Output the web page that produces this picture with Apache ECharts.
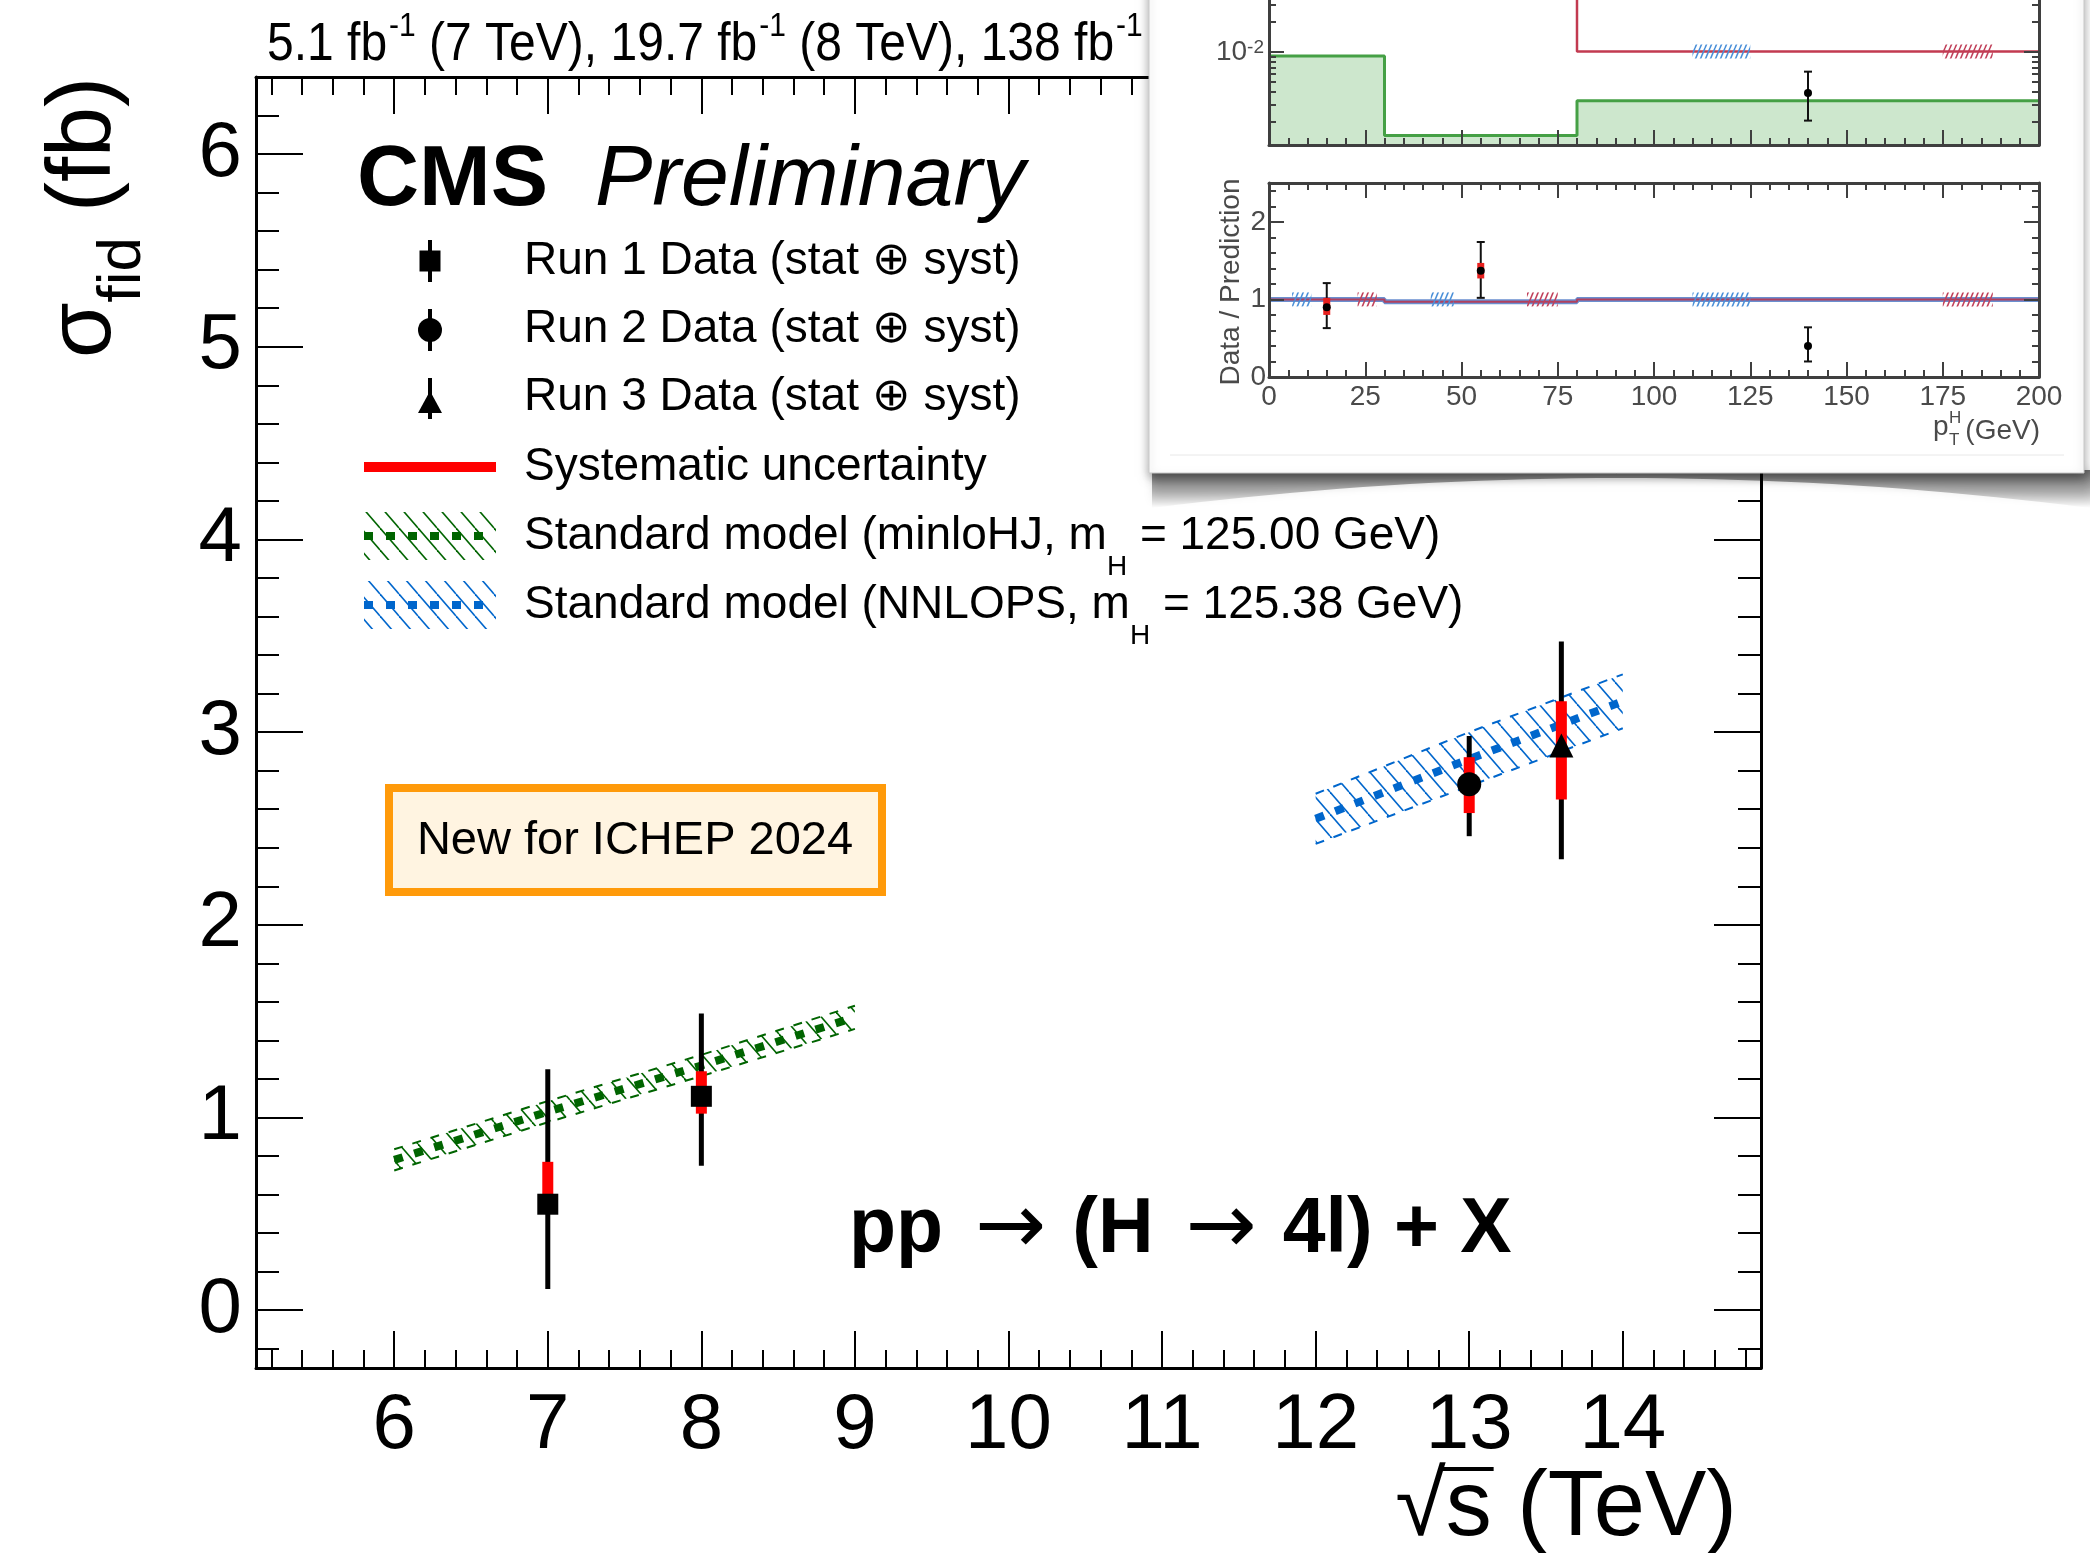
<!DOCTYPE html>
<html>
<head>
<meta charset="utf-8">
<title>CMS H to 4l fiducial cross section vs sqrt(s)</title>
<script src="https://cdn.jsdelivr.net/npm/echarts@6/dist/echarts.min.js"></script>
<style>
  html, body { margin: 0; padding: 0; background: #fff; }
  #chart { width: 2090px; height: 1553px; }
</style>
</head>
<body>
<div id="chart"></div>
<script>
// values
// main plot: sigma_fid (fb) vs sqrt(s) (TeV)
const run1Energy = [7, 8];
const run1Xsec = [0.55, 1.11];
const run1TotLow = [0.11, 0.75];
const run1TotHigh = [1.25, 1.54];
const run1SysLow = [0.50, 1.02];
const run1SysHigh = [0.77, 1.24];

const run2Energy = [13];
const run2Xsec = [2.73];
const run2TotLow = [2.46];
const run2TotHigh = [2.98];
const run2SysLow = [2.58];
const run2SysHigh = [2.87];

const run3Energy = [13.6];
const run3Xsec = [2.93];
const run3TotLow = [2.34];
const run3TotHigh = [3.47];
const run3SysLow = [2.65];
const run3SysHigh = [3.16];

const minloEnergy = [6, 7, 8, 9];
const minloXsec = [0.78, 1.03, 1.27, 1.52];
const minloLow = [0.725, 0.975, 1.215, 1.46];
const minloHigh = [0.835, 1.085, 1.325, 1.58];

const nnlopsEnergy = [12, 13, 14];
const nnlopsXsec = [2.55, 2.86, 3.16];
const nnlopsLow = [2.42, 2.72, 3.02];
const nnlopsHigh = [2.68, 3.00, 3.30];

const xTickLabels = [6, 7, 8, 9, 10, 11, 12, 13, 14];
const yTickLabels = [0, 1, 2, 3, 4, 5, 6];

// inset: pT(H) plot
const ptBinEdges = [0, 30, 80, 200];
const greenHist = [0.0091, 0.00146, 0.00326];
const redHist = [0.06, 0.06, 0.0101];
const ratioPred = [1.0, 0.97, 1.0];

const upperPt = [140];
const upperVal = [0.0039];
const upperLow = [0.00206];
const upperHigh = [0.00636];

const ratioPt = [15, 55, 140];
const ratioVal = [0.90, 1.37, 0.40];
const ratioTotLow = [0.63, 1.02, 0.20];
const ratioTotHigh = [1.21, 1.74, 0.64];
const ratioSysLow = [0.80, 1.27, null];
const ratioSysHigh = [1.02, 1.47, null];

const blueMarkStart = [6, 42, 110];
const blueMarkEnd = [11, 48, 125];
const redMarkStart = [23, 67, 175];
const redMarkEnd = [28, 75, 188];
const upperBlueMark = [[110, 125]];
const upperRedMark = [[175, 188]];

const ptTickLabels = [0, 25, 50, 75, 100, 125, 150, 175, 200];
const ratioTickLabels = [0, 1, 2];
const upperTickLabels = [0.01];

// ---------------------------------------------------------------
const FONT = '"Liberation Sans", Arial, Helvetica, sans-serif';
const GREEN = '#006400';
const BLUE = '#0066cc';
const INSET = '#3f3f3f';

function steps(a, b, s) {
  const n = Math.round((b - a) / s);
  const out = [];
  for (let i = 0; i <= n; i++) out.push(Math.round((a + i * s) * 1e6) / 1e6);
  return out;
}
const notOn = (v, m) => Math.abs(v / m - Math.round(v / m)) > 1e-6;

function hatch(color, w, h, lw, dir) {
  const c = document.createElement('canvas');
  c.width = w; c.height = h;
  const g = c.getContext('2d');
  g.strokeStyle = color; g.lineWidth = lw;
  for (let k = -1; k <= 1; k++) {
    g.beginPath();
    if (dir === '\\') { g.moveTo(k * w, 0); g.lineTo(k * w + w, h); }
    else { g.moveTo(k * w + w, 0); g.lineTo(k * w, h); }
    g.stroke();
  }
  return { image: c, repeat: 'repeat' };
}
const greenHatch = hatch(GREEN, 19, 22, 1.6, '\\');
const blueHatch = hatch(BLUE, 19, 22, 1.6, '\\');
const smallBlue = hatch('#4a8fd8', 5, 12, 1.6, '/');
const smallRed = hatch('#c0405a', 5, 12, 1.6, '/');

function axis(o) {
  const a = {
    type: 'value', gridIndex: o.grid, position: o.pos, min: o.min, max: o.max,
    zlevel: o.zlevel || 0, z: o.z || 0, silent: true,
    axisLine: { show: !!o.line, onZero: false, lineStyle: { color: o.color, width: o.lineWidth || 3 } },
    axisTick: { show: true, inside: true, length: o.len, customValues: o.ticks,
      lineStyle: { color: o.color, width: o.tickWidth || 2 } },
    axisLabel: { show: false },
    splitLine: { show: false }
  };
  if (o.labels) {
    a.axisLabel = Object.assign({ show: true, customValues: o.labels, color: o.color, fontFamily: FONT }, o.label);
  }
  return a;
}

// main plot ticks
const xMinorMain = steps(5.2, 14.8, 0.2).filter(v => notOn(v, 1));
const yMinorMain = steps(-0.2, 6.2, 0.2).filter(v => notOn(v, 1));
const mainX = { grid: 0, min: 5.1, max: 14.9, color: '#000' };
const mainY = { grid: 0, min: -0.3, max: 6.4, color: '#000' };

// inset ticks
const ptMinor = steps(5, 195, 5).filter(v => notOn(v, 25));
const ratioMinor = steps(0.2, 2.4, 0.2).filter(v => notOn(v, 1));
const logMajor = [-2, -1];
const logMinor = [];
[0.001, 0.01, 0.1].forEach(d => { for (let k = 2; k <= 9; k++) logMinor.push(Math.log10(k * d)); });
const insX1 = { grid: 1, min: 0, max: 200, color: INSET, zlevel: 1, z: 10 };
const insY1 = { grid: 1, min: -2.93, max: -0.5, color: INSET, zlevel: 1, z: 10 };
const insX2 = { grid: 2, min: 0, max: 200, color: INSET, zlevel: 1, z: 10 };
const insY2 = { grid: 2, min: 0, max: 2.5, color: INSET, zlevel: 1, z: 10 };
const insLabel = { fontSize: 28, color: '#4a4a4a' };

const xAxes = [
  axis(Object.assign({ pos: 'bottom', line: true, len: 37, ticks: xTickLabels, labels: xTickLabels,
    label: { fontSize: 78, margin: 19 } }, mainX)),
  axis(Object.assign({ pos: 'bottom', len: 18, ticks: xMinorMain }, mainX)),
  axis(Object.assign({ pos: 'top', line: true, len: 37, ticks: xTickLabels }, mainX)),
  axis(Object.assign({ pos: 'top', len: 18, ticks: xMinorMain }, mainX)),
  axis(Object.assign({ pos: 'bottom', line: true, len: 15, ticks: ptTickLabels }, insX1)),
  axis(Object.assign({ pos: 'bottom', len: 7, ticks: ptMinor }, insX1)),
  axis(Object.assign({ pos: 'bottom', line: true, len: 15, ticks: ptTickLabels, labels: ptTickLabels,
    label: Object.assign({ margin: 6 }, insLabel) }, insX2)),
  axis(Object.assign({ pos: 'bottom', len: 7, ticks: ptMinor }, insX2)),
  axis(Object.assign({ pos: 'top', line: true, len: 15, ticks: ptTickLabels }, insX2)),
  axis(Object.assign({ pos: 'top', len: 7, ticks: ptMinor }, insX2))
];

const yAxes = [
  axis(Object.assign({ pos: 'left', line: true, len: 47, ticks: yTickLabels, labels: yTickLabels,
    label: { fontSize: 78, margin: 14, padding: [12, 0, 0, 0] } }, mainY)),
  axis(Object.assign({ pos: 'left', len: 23, ticks: yMinorMain }, mainY)),
  axis(Object.assign({ pos: 'right', line: true, len: 47, ticks: yTickLabels }, mainY)),
  axis(Object.assign({ pos: 'right', len: 23, ticks: yMinorMain }, mainY)),
  axis(Object.assign({ pos: 'left', line: true, len: 15, ticks: logMajor, labels: upperTickLabels.map(Math.log10),
    label: { margin: 5, formatter: v => '{b|10}{s|' + Math.round(v) + '}',
      rich: { b: { fontSize: 28, color: '#4a4a4a', fontFamily: FONT, lineHeight: 28, verticalAlign: 'bottom', padding: [10, 0, 0, 0] },
              s: { fontSize: 19, color: '#4a4a4a', fontFamily: FONT, lineHeight: 19, verticalAlign: 'top' } } } }, insY1)),
  axis(Object.assign({ pos: 'left', len: 7, ticks: logMinor }, insY1)),
  axis(Object.assign({ pos: 'right', line: true, len: 15, ticks: logMajor }, insY1)),
  axis(Object.assign({ pos: 'right', len: 7, ticks: logMinor }, insY1)),
  axis(Object.assign({ pos: 'left', line: true, len: 15, ticks: ratioTickLabels, labels: ratioTickLabels,
    label: Object.assign({ margin: 3 }, insLabel) }, insY2)),
  axis(Object.assign({ pos: 'left', len: 7, ticks: ratioMinor }, insY2)),
  axis(Object.assign({ pos: 'right', line: true, len: 15, ticks: ratioTickLabels }, insY2)),
  axis(Object.assign({ pos: 'right', len: 7, ticks: ratioMinor }, insY2))
];

// --- series helpers
function bandSeries(xs, lo, hi, color, fill) {
  return {
    type: 'custom', xAxisIndex: 0, yAxisIndex: 0, z: 2, silent: true,
    data: xs.map((x, i) => [x, lo[i], hi[i]]),
    renderItem(params, api) {
      if (params.dataIndex !== 0) return null;
      const up = xs.map((x, i) => api.coord([x, hi[i]]));
      const dn = xs.map((x, i) => api.coord([x, lo[i]]));
      const dashed = { stroke: color, lineWidth: 2, lineDash: [9, 10], fill: null };
      return { type: 'group', children: [
        { type: 'polygon', shape: { points: up.concat(dn.slice().reverse()) }, style: { fill: fill } },
        { type: 'polyline', shape: { points: up }, style: dashed },
        { type: 'polyline', shape: { points: dn }, style: dashed }
      ] };
    }
  };
}

function centralLine(xs, ys, color) {
  return {
    type: 'line', xAxisIndex: 0, yAxisIndex: 0, z: 3, symbol: 'none', silent: true,
    data: xs.map((x, i) => [x, ys[i]]),
    lineStyle: { color: color, width: 8, type: [9, 12], cap: 'butt' }
  };
}

function errorBars(xs, ys, totLo, totHi, sysLo, sysHi) {
  return {
    type: 'custom', xAxisIndex: 0, yAxisIndex: 0, z: 4, silent: true,
    data: xs.map((x, i) => [x, ys[i]]),
    renderItem(params, api) {
      const i = params.dataIndex, x = xs[i];
      const a = api.coord([x, totLo[i]]), b = api.coord([x, totHi[i]]);
      const c = api.coord([x, sysLo[i]]), d = api.coord([x, sysHi[i]]);
      return { type: 'group', children: [
        { type: 'line', shape: { x1: a[0], y1: a[1], x2: b[0], y2: b[1] }, style: { stroke: '#000', lineWidth: 5 } },
        { type: 'rect', shape: { x: c[0] - 5.5, y: d[1], width: 11, height: c[1] - d[1] }, style: { fill: '#ff0000' } }
      ] };
    }
  };
}

function markers(xs, ys, symbol, size) {
  return {
    type: 'scatter', xAxisIndex: 0, yAxisIndex: 0, z: 5, silent: true,
    symbol: symbol, symbolSize: size,
    data: xs.map((x, i) => [x, ys[i]]),
    itemStyle: { color: '#000', opacity: 1 }
  };
}

function stepPoints(edges, vals, f) {
  const pts = [];
  vals.forEach((v, i) => { pts.push([edges[i], f(v)], [edges[i + 1], f(v)]); });
  return pts;
}
const lin = v => v;

function insetErrors(xi, yi, xs, ys, lo, hi, sLo, sHi, f) {
  return {
    type: 'custom', xAxisIndex: xi, yAxisIndex: yi, zlevel: 1, z: 6, silent: true,
    data: xs.map((x, i) => [x, f(ys[i])]),
    renderItem(params, api) {
      const i = params.dataIndex, x = xs[i];
      const a = api.coord([x, f(lo[i])]), b = api.coord([x, f(hi[i])]);
      const p = api.coord([x, f(ys[i])]);
      const kids = [
        { type: 'line', shape: { x1: a[0], y1: a[1], x2: b[0], y2: b[1] }, style: { stroke: '#111', lineWidth: 2 } },
        { type: 'line', shape: { x1: a[0] - 4, y1: a[1], x2: a[0] + 4, y2: a[1] }, style: { stroke: '#111', lineWidth: 2 } },
        { type: 'line', shape: { x1: b[0] - 4, y1: b[1], x2: b[0] + 4, y2: b[1] }, style: { stroke: '#111', lineWidth: 2 } }
      ];
      if (sLo && sLo[i] != null) {
        const c = api.coord([x, f(sLo[i])]), d = api.coord([x, f(sHi[i])]);
        kids.push({ type: 'rect', shape: { x: c[0] - 3.5, y: d[1], width: 7, height: c[1] - d[1] }, style: { fill: '#e8201e' } });
      }
      kids.push({ type: 'circle', shape: { cx: p[0], cy: p[1], r: 4 }, style: { fill: '#000' } });
      return { type: 'group', children: kids };
    }
  };
}

function hatchMarks(xi, yi, starts, ends, y, fill) {
  return {
    type: 'custom', xAxisIndex: xi, yAxisIndex: yi, zlevel: 1, z: 5, silent: true,
    data: starts.map((s, i) => [s, ends[i]]),
    renderItem(params, api) {
      const i = params.dataIndex;
      const p0 = api.coord([starts[i], y]), p1 = api.coord([ends[i], y]);
      return { type: 'rect', shape: { x: p0[0], y: p0[1] - 7, width: p1[0] - p0[0], height: 14 }, style: { fill: fill } };
    }
  };
}

const series = [
  bandSeries(minloEnergy, minloLow, minloHigh, GREEN, greenHatch),
  bandSeries(nnlopsEnergy, nnlopsLow, nnlopsHigh, BLUE, blueHatch),
  centralLine(minloEnergy, minloXsec, GREEN),
  centralLine(nnlopsEnergy, nnlopsXsec, BLUE),
  errorBars(run1Energy, run1Xsec, run1TotLow, run1TotHigh, run1SysLow, run1SysHigh),
  errorBars(run2Energy, run2Xsec, run2TotLow, run2TotHigh, run2SysLow, run2SysHigh),
  errorBars(run3Energy, run3Xsec, run3TotLow, run3TotHigh, run3SysLow, run3SysHigh),
  markers(run1Energy, run1Xsec, 'rect', 21),
  markers(run2Energy, run2Xsec, 'circle', 24),
  markers(run3Energy, run3Xsec, 'triangle', 24),

  // inset, upper panel (log scale drawn in log10 units)
  { type: 'line', xAxisIndex: 4, yAxisIndex: 4, zlevel: 1, z: 3, symbol: 'none', silent: true,
    data: stepPoints(ptBinEdges, greenHist, Math.log10),
    lineStyle: { color: '#45a045', width: 3 },
    areaStyle: { color: '#cde7cd', opacity: 1, origin: 'start' } },
  { type: 'line', xAxisIndex: 4, yAxisIndex: 4, zlevel: 1, z: 4, symbol: 'none', silent: true,
    data: stepPoints(ptBinEdges, redHist, Math.log10),
    lineStyle: { color: '#c23a50', width: 2.5 } },
  hatchMarks(4, 4, upperBlueMark.map(m => m[0]), upperBlueMark.map(m => m[1]), Math.log10(redHist[2]), smallBlue),
  hatchMarks(4, 4, upperRedMark.map(m => m[0]), upperRedMark.map(m => m[1]), Math.log10(redHist[2]), smallRed),
  insetErrors(4, 4, upperPt, upperVal, upperLow, upperHigh, null, null, Math.log10),

  // inset, ratio panel
  { type: 'line', xAxisIndex: 6, yAxisIndex: 8, zlevel: 1, z: 3, symbol: 'none', silent: true,
    data: stepPoints(ptBinEdges, ratioPred, lin),
    lineStyle: { color: '#6a8fd0', width: 5 },
    markLine: { silent: true, symbol: ['none', 'none'], label: { show: false },
      lineStyle: { type: 'dotted', color: '#9a9a9a', width: 1.3 },
      data: [{ xAxis: ptBinEdges[1] }, { xAxis: ptBinEdges[2] }] } },
  { type: 'line', xAxisIndex: 6, yAxisIndex: 8, zlevel: 1, z: 4, symbol: 'none', silent: true,
    data: stepPoints(ptBinEdges, ratioPred, lin),
    lineStyle: { color: '#b0405e', width: 2 } },
  hatchMarks(6, 8, blueMarkStart, blueMarkEnd, 1, smallBlue),
  hatchMarks(6, 8, redMarkStart, redMarkEnd, 1, smallRed),
  insetErrors(6, 8, ratioPt, ratioVal, ratioTotLow, ratioTotHigh, ratioSysLow, ratioSysHigh, lin)
];

// --- text and legend
const measure = document.createElement('canvas').getContext('2d');
function textWidth(str, font) { measure.font = font; return measure.measureText(str).width; }

function txt(x, y, text, size, extra) {
  return Object.assign({ type: 'text', x: x, y: y, silent: true,
    style: Object.assign({ text: text, fontSize: size, fontFamily: FONT, fill: '#000', verticalAlign: 'middle', align: 'left' },
      extra && extra.style) }, extra && extra.el);
}

const legendX = 430, legendText = 524;
const rows = [261, 329, 397, 467, 536, 605];

const xTitleFont = '92px ' + FONT;
const xTitle = '\u221As (TeV)';
const xTitleLeft = 1737 - textWidth(xTitle, xTitleFont);
const sqrtW = textWidth('\u221A', xTitleFont);
const sW = textWidth('s', xTitleFont);

const smRich = {
  a: { fontSize: 46, lineHeight: 46, verticalAlign: 'top', fontFamily: FONT, fill: '#000' },
  b: { fontSize: 28, lineHeight: 28, verticalAlign: 'top', padding: [40, 0, 0, 0], fontFamily: FONT, fill: '#000' }
};

// curled shadow under the inset card
const shadowPts = [[1152, 470], [2090, 470]];
for (let k = 0; k <= 40; k++) {
  const x = 2090 - k * (938 / 40);
  const t = (x - 1621) / 469;
  shadowPts.push([x, 478 + 30 * t * t]);
}

const graphics = [
  // header
  { type: 'text', x: 267, y: 10, scaleY: 1.1, silent: true, style: {
    text: '{a|5.1 fb}{p|-1}{a| (7 TeV), 19.7 fb}{p|-1}{a| (8 TeV), 138 fb}{p|-1}',
    verticalAlign: 'top', align: 'left',
    rich: { a: { fontSize: 48, lineHeight: 48, verticalAlign: 'top', padding: [8, 0, 0, 0], fontFamily: FONT, fill: '#000' },
            p: { fontSize: 30, lineHeight: 30, verticalAlign: 'top', padding: [0, 0, 0, 2], fontFamily: FONT, fill: '#000' } } } },
  txt(357, 181, 'CMS', 86, { style: { fontWeight: 'bold' } }),
  txt(595, 181, 'Preliminary', 86, { style: { fontStyle: 'italic' } }),

  // legend symbols
  { type: 'line', silent: true, shape: { x1: legendX, y1: 240, x2: legendX, y2: 282 }, style: { stroke: '#000', lineWidth: 4 } },
  { type: 'rect', silent: true, shape: { x: legendX - 10.5, y: 250.5, width: 21, height: 21 }, style: { fill: '#000' } },
  { type: 'line', silent: true, shape: { x1: legendX, y1: 309, x2: legendX, y2: 351 }, style: { stroke: '#000', lineWidth: 4 } },
  { type: 'circle', silent: true, shape: { cx: legendX, cy: 330, r: 12 }, style: { fill: '#000' } },
  { type: 'line', silent: true, shape: { x1: legendX, y1: 378, x2: legendX, y2: 419 }, style: { stroke: '#000', lineWidth: 4 } },
  { type: 'polygon', silent: true, shape: { points: [[legendX, 391], [legendX + 12, 413], [legendX - 12, 413]] }, style: { fill: '#000' } },
  { type: 'rect', silent: true, shape: { x: 364, y: 462, width: 132, height: 10 }, style: { fill: '#ff0000' } },
  { type: 'rect', silent: true, shape: { x: 364, y: 512, width: 132, height: 48 }, style: { fill: greenHatch } },
  { type: 'line', silent: true, shape: { x1: 364, y1: 536, x2: 496, y2: 536 }, style: { stroke: GREEN, lineWidth: 8, lineDash: [9, 13] } },
  { type: 'rect', silent: true, shape: { x: 364, y: 581, width: 132, height: 48 }, style: { fill: blueHatch } },
  { type: 'line', silent: true, shape: { x1: 364, y1: 605, x2: 496, y2: 605 }, style: { stroke: BLUE, lineWidth: 8, lineDash: [9, 13] } },

  // legend text
  txt(legendText, rows[0], 'Run 1 Data (stat \u2295 syst)', 46),
  txt(legendText, rows[1], 'Run 2 Data (stat \u2295 syst)', 46),
  txt(legendText, rows[2], 'Run 3 Data (stat \u2295 syst)', 46),
  txt(legendText, rows[3], 'Systematic uncertainty', 46),
  { type: 'text', x: legendText, y: rows[4] - 23, silent: true, style: {
    text: '{a|Standard model (minloHJ, m}{b|H}{a| = 125.00 GeV)}', verticalAlign: 'top', align: 'left', rich: smRich } },
  { type: 'text', x: legendText, y: rows[5] - 23, silent: true, style: {
    text: '{a|Standard model (NNLOPS, m}{b|H}{a| = 125.38 GeV)}', verticalAlign: 'top', align: 'left', rich: smRich } },

  // ICHEP box
  { type: 'rect', silent: true, shape: { x: 389, y: 788, width: 493, height: 104 },
    style: { fill: '#fff4e1', stroke: '#ff9a0a', lineWidth: 8 } },
  txt(635, 841, 'New for ICHEP 2024', 47, { style: { align: 'center' } }),

  // process label
  { type: 'text', x: 849, y: 1231, silent: true, style: {
    text: '{b|pp}{r|\u2192}{b|(H}{r|\u2192}{b|4l) + X}', verticalAlign: 'middle', align: 'left',
    rich: { b: { fontSize: 77, fontWeight: 'bold', fontFamily: FONT, fill: '#000' },
            r: { fontSize: 85, fontFamily: '"DejaVu Sans", sans-serif', fill: '#000', padding: [0, 26, 0, 32] } } } },

  // axis titles
  txt(1737, 1510, xTitle, 92, { style: { align: 'right' } }),
  { type: 'line', silent: true, shape: { x1: xTitleLeft + sqrtW - 3, y1: 1469, x2: xTitleLeft + sqrtW + sW + 2, y2: 1469 },
    style: { stroke: '#000', lineWidth: 4 } },
  { type: 'text', x: 40, y: 77, rotation: Math.PI / 2, silent: true, style: {
    text: '{m|\u03C3}{s|fid}{m| (fb)}', align: 'right', verticalAlign: 'top',
    rich: { m: { fontSize: 90, lineHeight: 90, verticalAlign: 'top', fontFamily: FONT, fill: '#000' },
            s: { fontSize: 62, lineHeight: 62, verticalAlign: 'top', padding: [52, 0, 0, 0], fontFamily: FONT, fill: '#000' } } } },

  // inset card with curled shadow
  { type: 'polygon', zlevel: 1, z: 0, silent: true, shape: { points: shadowPts },
    style: { fill: { type: 'linear', x: 0, y: 0, x2: 0, y2: 1,
      colorStops: [{ offset: 0, color: 'rgba(0,0,0,0.55)' }, { offset: 0.6, color: 'rgba(0,0,0,0.25)' }, { offset: 1, color: 'rgba(0,0,0,0)' }] },
      shadowBlur: 8, shadowColor: 'rgba(0,0,0,0.3)' } },
  { type: 'rect', zlevel: 1, z: 1, silent: true, shape: { x: 1149, y: -30, width: 935, height: 503 },
    style: { fill: '#fff', stroke: '#c8c8c8', lineWidth: 1, shadowBlur: 10, shadowOffsetY: 4, shadowColor: 'rgba(0,0,0,0.35)' } },
  { type: 'line', zlevel: 1, z: 2, silent: true, shape: { x1: 1170, y1: 455, x2: 2064, y2: 455 }, style: { stroke: '#e8e8e8', lineWidth: 1 } },
  txt(1231, 282, 'Data / Prediction', 28, { el: { rotation: Math.PI / 2, zlevel: 1, z: 20 }, style: { align: 'center', fill: '#4a4a4a' } }),
  txt(1933, 427, 'p', 28, { el: { zlevel: 1, z: 20 }, style: { fill: '#4a4a4a' } }),
  txt(1949, 418, 'H', 17, { el: { zlevel: 1, z: 20 }, style: { fill: '#4a4a4a' } }),
  txt(1949, 440, 'T', 17, { el: { zlevel: 1, z: 20 }, style: { fill: '#4a4a4a' } }),
  txt(2040, 431, '(GeV)', 28, { el: { zlevel: 1, z: 20 }, style: { align: 'right', fill: '#4a4a4a' } })
];

const chart = echarts.init(document.getElementById('chart'), null, { renderer: 'canvas', width: 2090, height: 1553 });
chart.setOption({
  animation: false,
  backgroundColor: '#fff',
  grid: [
    { left: 256, top: 77, width: 1505, height: 1291, outerBoundsMode: 'none' },
    { left: 1269, top: -98, width: 770, height: 243, zlevel: 1, outerBoundsMode: 'none' },
    { left: 1269, top: 183, width: 770, height: 194, zlevel: 1, outerBoundsMode: 'none' }
  ],
  xAxis: xAxes,
  yAxis: yAxes,
  series: series,
  graphic: { elements: graphics }
});
</script>
</body>
</html>
